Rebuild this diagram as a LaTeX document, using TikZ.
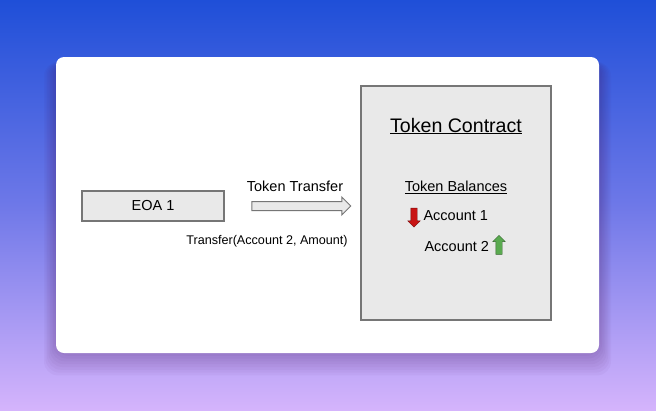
\documentclass[tikz,border=0pt]{standalone}
\usepackage{fontspec}
\setmainfont{Liberation Sans}
\usetikzlibrary{positioning, shapes.arrows}

\definecolor{bgtop}{RGB}{31,79,216}
\definecolor{bgmid}{RGB}{110,120,232}
\definecolor{bgbot}{RGB}{213,180,252}
\definecolor{boxfill}{RGB}{233,233,233}
\definecolor{boxline}{RGB}{118,118,118}
\definecolor{downred}{RGB}{200,20,20}
\definecolor{upgreen}{RGB}{90,170,80}

\begin{document}
\begin{tikzpicture}[
						x=1pt, y=-1pt,
						every node/.style = {font=\fontsize{14.5}{17}\selectfont},
						box/.style = {draw=boxline, fill=boxfill, line width=1.2pt, rectangle},
						flow/.style = {draw=boxline, fill=boxfill, line width=1pt, single arrow, single arrow head extend=4.5pt, single arrow head indent=0pt, minimum width=0pt, minimum height=99pt, inner xsep=0pt, inner ysep=4pt},
						down/.style = {draw=downred!60!black, fill=downred, single arrow, shape border rotate=270, single arrow head extend=3pt, minimum width=0pt, minimum height=19pt, inner xsep=3pt, inner ysep=0pt, line width=0.4pt},
						up/.style = {draw=upgreen!60!black, fill=upgreen, single arrow, shape border rotate=90, single arrow head extend=3pt, minimum width=0pt, minimum height=19pt, inner xsep=3pt, inner ysep=0pt, line width=0.4pt},
					]

% background and card
\useasboundingbox (0,0) rectangle (656,410);
\shade[top color=bgtop, bottom color=bgbot, middle color=bgmid] (0,0) rectangle (656,410);
\foreach \i in {1,...,8}
	\fill[black!50!violet, opacity=0.03, rounded corners=14pt] (56-\i*1.5,62) rectangle (599+\i*1.5,353+\i*2.8);
\fill[white, rounded corners=8pt] (56,57) rectangle (599,353);

% boxes
\node[box, minimum width=142pt, minimum height=30pt] (eoa) at (153,206) {EOA 1};
\node[box, minimum width=190pt, minimum height=234pt] (contract) at (456,203) {};
\node[flow] (send) at (299,206) {};

% labels
\node (sendtop) at (295,186) {Token Transfer};
\node[font=\fontsize{12.6}{15}\selectfont] (sendbot) at (267,241) {Transfer(Account 2, Amount)};
\node[font=\fontsize{19.6}{22}\selectfont] (title) at (456,126) {\underline{Token Contract}};
\node (bal) at (456,187) {\underline{Token Balances}};
\node[anchor=west] (acc1) at (420,216) {Account 1};
\node[anchor=west] (acc2) at (421,247) {Account 2};
\node[down] (dec) at (414,216) {};
\node[up] (inc) at (499,246.5) {};

\end{tikzpicture}
\end{document}
